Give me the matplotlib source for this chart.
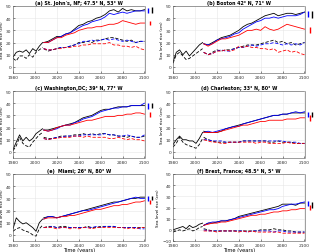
import numpy as np
import matplotlib
matplotlib.use("Agg")
import matplotlib.pyplot as plt

titles = ["(a) St. John's, NF; 47.5° N, 53° W", "(b) Boston 42° N, 71° W",
          "(c) Washington,DC; 39° N, 77° W", "(d) Charleston; 33° N, 80° W",
          "(e)  Miami; 26° N, 80° W", "(f) Brest, France; 48.5° N, 5° W"]

hist_years = [1980, 1983, 1986, 1989, 1992, 1995, 1998, 2001, 2004, 2007]
fut_years = list(range(2008, 2101, 4))

hist_solid = [
    [8, 12, 13, 12, 14, 11, 15, 13, 17, 20],
    [4, 12, 14, 10, 13, 9, 12, 15, 18, 20],
    [2, 8, 14, 9, 12, 9, 11, 15, 17, 19],
    [6, 10, 13, 10, 10, 9, 9, 7, 11, 16],
    [5, 14, 11, 9, 10, 8, 6, 3, 10, 13],
    [0, 1, 2, 3, 1, 4, 2, 3, 5, 6],
]
hist_dashed = [
    [7, 5, 9, 9, 7, 10, 8, 12, 14, 16],
    [3, 10, 12, 9, 6, 7, 9, 11, 13, 15],
    [1, 5, 12, 7, 5, 4, 8, 11, 14, 16],
    [4, 7, 12, 8, 6, 5, 4, 3, 6, 11],
    [3, 5, 6, 4, 3, 2, 0, -1, 5, 8],
    [-2, -1, 0, -1, 0, 1, -1, 0, 2, 3],
]
black_solid = [
    [20,21,23,25,25,27,28,31,34,35,37,38,40,41,43,46,47,45,48,46,47,46,46,47],
    [19,18,20,22,24,25,26,28,30,33,35,36,38,40,42,43,44,42,43,44,44,43,44,45],
    [18,18,19,20,21,22,23,24,26,28,29,30,32,34,35,35,36,37,37,37,38,38,38,38],
    [17,16,16,16,17,19,20,21,22,23,24,25,26,27,28,29,30,30,31,31,32,32,32,32],
    [14,15,15,14,15,16,17,18,19,20,21,22,23,24,25,26,27,27,28,29,30,30,31,31],
    [4,6,6,7,8,8,9,10,12,13,14,15,16,17,18,19,20,21,23,23,23,22,24,24],
]
blue_solid = [
    [20,20,22,24,25,27,28,30,32,34,35,37,38,39,41,44,43,44,45,44,45,46,46,46],
    [19,18,19,22,23,24,25,27,28,31,33,35,37,38,40,40,41,40,41,42,42,42,43,45],
    [18,17,18,19,21,22,22,24,25,27,28,29,31,33,34,35,36,36,37,37,38,38,38,40],
    [16,17,16,17,18,19,20,21,21,23,24,25,26,27,28,29,30,30,31,31,32,33,32,33],
    [13,15,15,14,15,16,17,18,19,20,20,21,22,23,24,25,26,27,28,29,30,31,30,30],
    [4,6,7,7,8,8,9,10,11,12,13,14,15,16,17,18,18,19,21,22,23,23,24,25],
]
red_solid = [
    [20,20,22,24,24,26,27,28,30,31,32,32,33,33,34,35,35,36,38,37,36,35,36,36],
    [19,17,19,21,23,23,24,25,26,28,30,30,31,30,33,31,30,31,33,35,34,33,32,31],
    [18,17,18,20,21,22,22,23,24,25,26,26,27,28,29,29,29,30,30,31,31,32,32,31],
    [16,16,16,16,17,18,19,20,21,22,22,23,24,25,25,26,26,26,26,27,27,27,28,28],
    [13,14,14,14,15,15,16,16,17,18,19,20,21,21,22,23,24,24,25,25,26,27,27,28],
    [4,5,6,6,7,7,8,9,10,11,12,13,13,14,14,15,16,16,17,17,18,18,19,19],
]
black_dashed = [
    [15,13,14,15,16,16,17,18,20,20,21,20,22,22,23,24,24,23,22,21,22,20,21,21],
    [12,10,12,14,13,14,14,15,16,17,18,18,18,19,20,21,22,20,21,19,20,18,19,20],
    [12,11,11,12,13,13,13,14,14,15,14,15,14,15,15,14,14,13,13,12,13,12,12,13],
    [12,10,9,8,8,8,8,8,8,9,9,9,9,9,9,8,8,9,8,8,8,7,7,7],
    [6,7,7,6,7,7,6,6,6,6,7,6,6,7,7,7,7,6,6,6,6,6,6,6],
    [1,0,-1,-1,-1,-1,-1,-1,-1,-1,-1,-1,-1,0,0,0,1,0,0,-1,-1,-2,-2,-2],
]
blue_dashed = [
    [15,14,14,15,16,16,17,18,19,21,21,22,21,22,23,22,23,22,21,22,21,20,21,21],
    [12,10,11,13,14,13,13,15,16,16,17,18,17,18,19,19,20,19,18,19,18,19,18,20],
    [11,10,11,12,12,13,13,13,13,14,14,14,14,14,15,14,14,13,13,14,13,12,12,14],
    [10,10,9,9,9,8,8,8,8,9,9,9,9,9,9,9,9,9,9,8,8,8,7,7],
    [6,6,7,6,6,6,6,6,6,6,6,6,7,6,7,7,7,6,6,6,6,6,5,5],
    [0,-1,-1,-1,-1,-1,-1,-1,-1,-1,-2,-1,-1,-1,-1,-1,-2,-1,-1,-2,-2,-2,-2,-2],
]
red_dashed = [
    [15,14,14,15,15,16,16,17,17,18,18,19,19,19,19,20,18,18,17,17,16,17,15,14],
    [12,10,11,13,13,14,13,14,17,16,17,16,16,15,15,14,15,12,13,14,12,13,11,10],
    [11,10,11,11,12,12,12,13,13,12,13,12,12,12,12,11,11,12,11,10,11,10,10,9],
    [10,9,8,8,7,7,8,8,8,8,8,8,7,8,8,7,7,7,7,8,7,7,7,7],
    [6,6,6,5,6,6,5,6,5,6,6,5,6,6,6,6,6,6,6,5,6,5,6,6],
    [-1,-1,-1,-2,-1,-1,-1,-1,-2,-1,-2,-1,-2,-2,-2,-2,-2,-2,-3,-3,-3,-3,-3,-3],
]
# end-of-century ranges (low, high): black, blue, red
bar_black = [(44, 49), (40, 46), (36, 40), (29, 33), (29, 32), (20, 25)]
bar_blue = [(44, 48), (41, 46), (35, 40), (29, 33), (28, 32), (21, 26)]
bar_red = [(34, 38), (28, 33), (29, 33), (25, 30), (25, 29), (18, 22)]
ylims = [(-5, 50)] * 5 + [(-10, 50)]

plt.rcParams['font.family'] = 'DejaVu Sans'
fig = plt.figure(figsize=(3.2, 2.53), dpi=100)
lefts = [13 / 320, 173 / 320]
w = 131.5 / 320
h = 67 / 253
bottoms = [1 - 74 / 253, 1 - 159 / 253, 1 - 242 / 253]
lw = 0.6
dash = (0, (4, 2))
for i in range(6):
    r, c = divmod(i, 2)
    ax = fig.add_axes([lefts[c], bottoms[r], w, h])
    ax.plot(hist_years, hist_solid[i], color='k', lw=lw)
    ax.plot(hist_years, hist_dashed[i], color='k', lw=lw, ls=dash)
    ax.plot(fut_years, black_solid[i], color='k', lw=lw)
    ax.plot(fut_years, blue_solid[i], color='#0000ff', lw=lw)
    ax.plot(fut_years, red_solid[i], color='#ff0000', lw=lw)
    ax.plot(fut_years, black_dashed[i], color='k', lw=lw, ls=dash)
    ax.plot(fut_years, blue_dashed[i], color='#0000ff', lw=lw, ls=dash)
    ax.plot(fut_years, red_dashed[i], color='#ff0000', lw=lw, ls=dash)
    for xb, rng, col in [(2103, bar_blue[i], '#0000ff'), (2104.8, bar_red[i], '#ff0000'),
                         (2106.5, bar_black[i], 'k')]:
        ax.plot([xb, xb], rng, color=col, lw=1.0, clip_on=False, solid_capstyle='butt')
    ax.set_xlim(1980, 2100)
    ax.set_ylim(*ylims[i])
    ax.set_xticks(range(1980, 2101, 20))
    ax.set_yticks(range(int(ylims[i][0]) if ylims[i][0] % 10 == 0 else 0, 51, 10))
    ax.grid(True, color='#e6e6e6', lw=0.4)
    ax.set_axisbelow(True)
    ax.tick_params(direction='in', length=1.5, width=0.4, labelsize=3.2, pad=1.2,
                   colors='#333333')
    for s in ax.spines.values():
        s.set_linewidth(0.4)
        s.set_color('#555555')
    ax.set_title(titles[i], fontsize=3.4, fontweight='bold', pad=1.5)
    ax.set_ylabel('Sea level rise (cm)', fontsize=2.9, labelpad=1.5)
    if r == 2:
        ax.set_xlabel('Time (years)', fontsize=3.7, labelpad=0.3)

fig.savefig('out.png', dpi=100)
